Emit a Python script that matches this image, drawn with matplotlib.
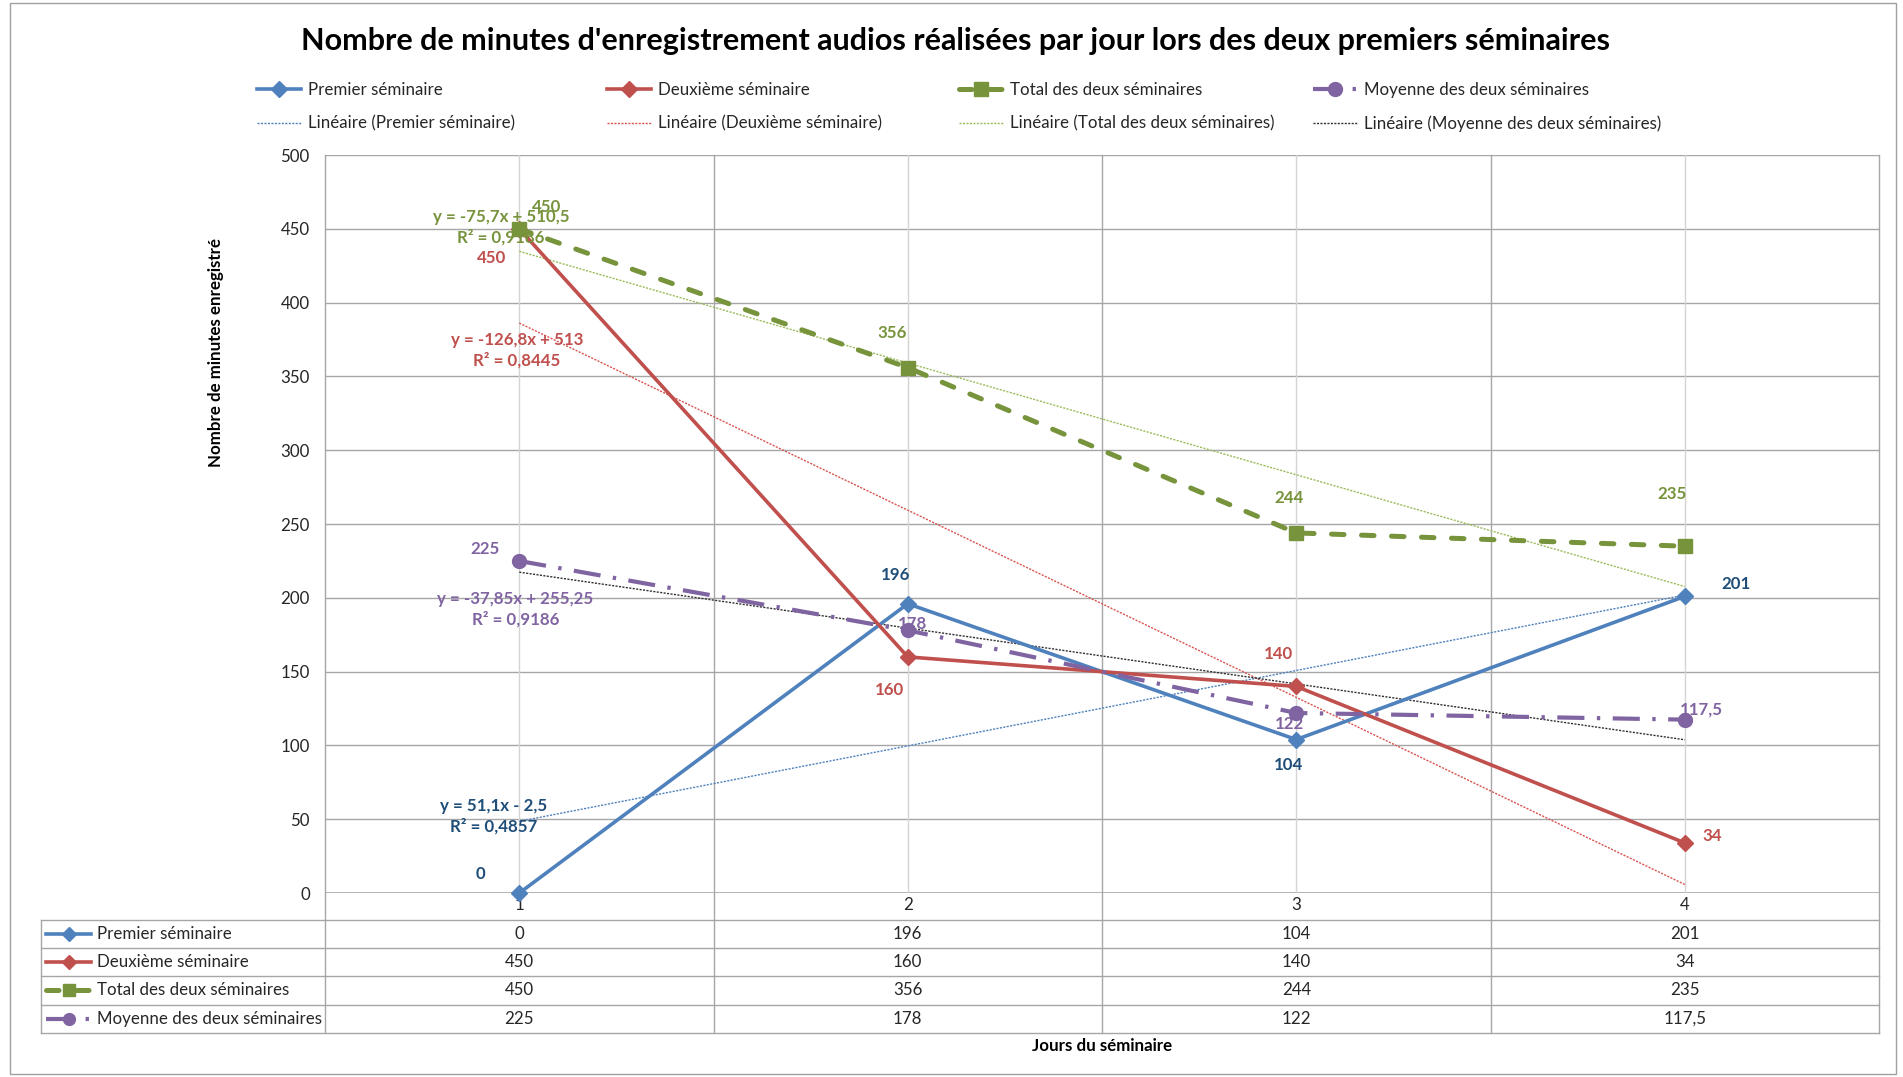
import matplotlib
matplotlib.use("Agg")
import matplotlib.pyplot as plt
import matplotlib.transforms as mtransforms
from matplotlib.lines import Line2D
from matplotlib.patches import Rectangle
import numpy as np

plt.rcParams['font.family'] = ['Lato', 'DejaVu Sans']

# données du graphique
jours = [1, 2, 3, 4]
premier = [0, 196, 104, 201]
deuxieme = [450, 160, 140, 34]
total = [450, 356, 244, 235]
moyenne = [225, 178, 122, 117.5]
noms = ["Premier séminaire", "Deuxième séminaire",
        "Total des deux séminaires", "Moyenne des deux séminaires"]
titre = "Nombre de minutes d'enregistrement audios réalisées par jour lors des deux premiers séminaires"

series = [premier, deuxieme, total, moyenne]

FS = 12.2  # taille du texte courant

# styles par série
styles = [
    dict(color='#4F81BD', lw=2.6, ls='-', marker='D', ms=8, mfc='#4F81BD', mec='#4F81BD'),
    dict(color='#C0504D', lw=2.6, ls='-', marker='D', ms=8, mfc='#C0504D', mec='#C0504D'),
    dict(color='#77933C', lw=3.6, ls=(0, (2.5, 3.5)), marker='s', ms=10, mfc='#77933C', mec='#77933C',
         dash_capstyle='round'),
    dict(color='#8064A2', lw=3.0, ls=(0, (6.5, 3, 0.8, 3)), marker='o', ms=10, mfc='#8064A2', mec='#8064A2'),
]
trend_styles = [
    dict(color='#4F81BD', lw=1.0, ls=(0, (1.5, 1))),
    dict(color='#D9534F', lw=1.0, ls=(0, (1.5, 1))),
    dict(color='#9BBB59', lw=1.0, ls=(0, (1.5, 1))),
    dict(color='#303030', lw=1.0, ls=(0, (1.5, 1))),
]
label_colors = ['#1F4E79', '#C0504D', '#77933C', '#8064A2']

# décalages des étiquettes (pixels)
label_offsets = [
    [(-39, 19), (-12, 29), (-8, -25), (51, 12)],
    [(-28, -29), (-18, -33), (-18, 32), (27, 7)],
    [(27, 22), (-16, 35), (-7, 35), (-13, 52)],
    [(-34, 12), (5, 6), (-7, -11), (17, 10)],
]
eq_pos = [(0.934, 51.8), (0.994, 367.6), (0.953, 451), (0.99, 192.4)]


def fr(v):
    s = f"{v:g}"
    return s.replace('.', ',')


fig = plt.figure(figsize=(19.03, 10.77), dpi=100)
ax = fig.add_axes([0.1708, 0.1708, 0.8166, 0.6852])
ax.set_xlim(0.5, 4.5)
ax.set_ylim(0, 500)
for sp in ax.spines.values():
    sp.set_visible(False)

trans = mtransforms.blended_transform_factory(ax.transData, ax.transAxes)
grid_c = '#A6A6A6'

# grille
for y in range(50, 501, 50):
    ax.axhline(y, color=grid_c, lw=1, zorder=0)
ax.axhline(0, color=grid_c, lw=1.2, zorder=0)
for x in jours:
    ax.axvline(x, color='#D4D4D4', lw=1, zorder=0)

# tableau de données
row_edges = [-0.0362, -0.0740, -0.1118, -0.1513, -0.1891]
left_x = -0.23125
for x in [0.5, 1.5, 2.5, 3.5, 4.5]:
    ax.plot([x, x], [1, row_edges[-1]], transform=trans, color=grid_c, lw=1, clip_on=False, zorder=0)
for y in row_edges:
    ax.plot([left_x, 4.5], [y, y], transform=trans, color=grid_c, lw=1, clip_on=False, zorder=0)
ax.plot([left_x, left_x], [row_edges[0], row_edges[-1]], transform=trans, color=grid_c, lw=1, clip_on=False)

for i, (vals, nom, st) in enumerate(zip(series, noms, styles)):
    yc = (row_edges[i] + row_edges[i + 1]) / 2
    key = dict(st)
    key['ms'] = st['ms'] * 0.85
    ax.plot([-0.2188, -0.159, -0.103], [yc] * 3, transform=trans, clip_on=False, markevery=[1], **key)
    ax.text(-0.0875, yc, nom, transform=trans, ha='left', va='center', fontsize=FS, color='#262626')
    for x, v in zip(jours, vals):
        ax.text(x, yc, fr(v), transform=trans, ha='center', va='center', fontsize=FS, color='#262626')

# séries, tendances, étiquettes
handles = []
for i, (vals, st, tst) in enumerate(zip(series, styles, trend_styles)):
    line, = ax.plot(jours, vals, zorder=4, clip_on=False, **st)
    a, b = np.polyfit(jours, vals, 1)
    fit = np.polyval([a, b], jours)
    r2 = 1 - np.sum((np.array(vals) - fit) ** 2) / np.sum((np.array(vals) - np.mean(vals)) ** 2)
    tline, = ax.plot(jours, fit, zorder=3, **tst)
    handles.append((line, tline))
    for x, v, off in zip(jours, vals, label_offsets[i]):
        ax.annotate(fr(v), (x, v), xytext=off, textcoords='offset pixels', ha='center', va='center',
                    fontsize=FS, fontweight='bold', color=label_colors[i], zorder=6)
    sign = '+' if b >= 0 else '-'
    eq = f"y = {fr(round(a, 4))}x {sign} {fr(round(abs(b), 4))}\nR² = {r2:.4f}".replace('.', ',')
    ex, ey = eq_pos[i]
    ax.text(ex, ey, eq, ha='center', va='center', fontsize=FS, fontweight='bold',
            color=label_colors[i], linespacing=1.3, zorder=6)

ax.set_yticks(range(0, 501, 50))
ax.set_xticks(jours)
ax.set_xticklabels([str(j) for j in jours])
ax.tick_params(axis='both', length=0, labelsize=FS, labelcolor='#262626')
ax.tick_params(axis='y', pad=11)
ax.tick_params(axis='x', pad=3)

# légende
leg_x = [0.135, 0.319, 0.504, 0.690]
for i, (h, nom) in enumerate(zip(handles, noms)):
    leg = fig.legend(handles=list(h), labels=[nom, f"Linéaire ({nom})"], loc='upper left',
                     bbox_to_anchor=(leg_x[i], 0.9235), frameon=False, fontsize=FS,
                     handlelength=2.6, handletextpad=0.4, labelspacing=1.0,
                     borderpad=0, borderaxespad=0)
    for t in leg.get_texts():
        t.set_color('#262626')

fig.text(0.502, 0.962, titre, ha='center', va='center', fontsize=22, fontweight='bold', color='black')
fig.text(0.1135, 0.673, "Nombre de minutes enregistré", rotation=90, ha='center', va='center',
         fontsize=FS, fontweight='bold', color='black')
fig.text(0.579, 0.0287, "Jours du séminaire", ha='center', va='center', fontsize=FS,
         fontweight='bold', color='black')

fig.patches.append(Rectangle((10 / 1903, 3 / 1077), 1886 / 1903, 1071 / 1077, transform=fig.transFigure,
                             fill=False, ec='#A0A0A0', lw=1))

fig.savefig("out.png", dpi=100)
